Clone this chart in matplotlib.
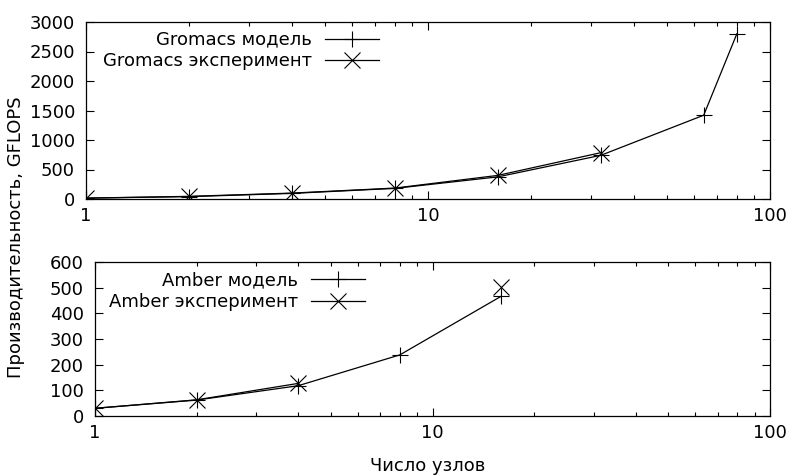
import numpy as np
import matplotlib
matplotlib.use("Agg")
import matplotlib.pyplot as plt
from matplotlib.ticker import LogLocator, FixedLocator, NullFormatter

# Gromacs
gro_model_x = [1, 2, 4, 8, 16, 32, 64, 80]
gro_model_y = [15, 40, 95, 180, 375, 740, 1420, 2800]
gro_exp_x = [1, 2, 4, 8, 16, 32]
gro_exp_y = [15, 45, 100, 185, 400, 785]

# Amber (no experiment point at 8 nodes, so the line breaks there)
amb_model_x = [1, 2, 4, 8, 16]
amb_model_y = [30, 62, 118, 238, 467]
amb_exp_x = [1, 2, 4, 8, 16]
amb_exp_y = [30, 63, 127, np.nan, 504]

plt.rcParams['font.family'] = 'DejaVu Sans'
plt.rcParams['font.size'] = 13

fig = plt.figure(figsize=(7.9, 4.75), dpi=100)
W, H = 790, 475
ax1 = fig.add_axes([86 / W, 1 - 199 / H, (770 - 86) / W, (199 - 22) / H])
ax2 = fig.add_axes([95 / W, 1 - 416 / H, (770 - 95) / W, (416 - 262) / H])

line_kw = dict(color='black', lw=0.9, markersize=11, markeredgewidth=0.8)


def style(ax, ymax, ystep):
    ax.set_xscale('log')
    ax.set_xlim(1, 100)
    ax.set_ylim(0, ymax)
    ax.set_yticks(np.arange(0, ymax + 1, ystep))
    ax.xaxis.set_major_locator(FixedLocator([1, 10, 100]))
    ax.set_xticklabels(['1', '10', '100'])
    ax.xaxis.set_minor_locator(LogLocator(base=10, subs=np.arange(2, 10)))
    ax.xaxis.set_minor_formatter(NullFormatter())
    ax.tick_params(which='both', direction='in', top=True, right=True, width=0.8)
    ax.tick_params(which='major', length=6, pad=6)
    ax.tick_params(axis='y', which='major', pad=8)
    ax.tick_params(which='minor', length=3)
    for s in ax.spines.values():
        s.set_linewidth(0.9)


ax1.plot(gro_model_x, gro_model_y, marker='+', label='Gromacs модель', **line_kw)
ax1.plot(gro_exp_x, gro_exp_y, marker='x', label='Gromacs эксперимент', **line_kw)
style(ax1, 3000, 500)
ax1.legend(loc='upper right', bbox_to_anchor=(0.428, 0.95), frameon=False,
           markerfirst=False, handlelength=3.0, borderpad=0, borderaxespad=0,
           labelspacing=0.2, handletextpad=0.7)

ax2.plot(amb_model_x, amb_model_y, marker='+', label='Amber модель', **line_kw)
ax2.plot(amb_exp_x, amb_exp_y, marker='x', label='Amber эксперимент', **line_kw)
style(ax2, 600, 100)
ax2.legend(loc='upper right', bbox_to_anchor=(0.40, 0.94), frameon=False,
           markerfirst=False, handlelength=3.0, borderpad=0, borderaxespad=0,
           labelspacing=0.2, handletextpad=0.7)

fig.text(16 / W, 1 - 237 / H, 'Производительность, GFLOPS', rotation=90,
         ha='center', va='center')
fig.text(428 / W, 1 - 466 / H, 'Число узлов', ha='center', va='center')

fig.savefig('out.png', dpi=100)
